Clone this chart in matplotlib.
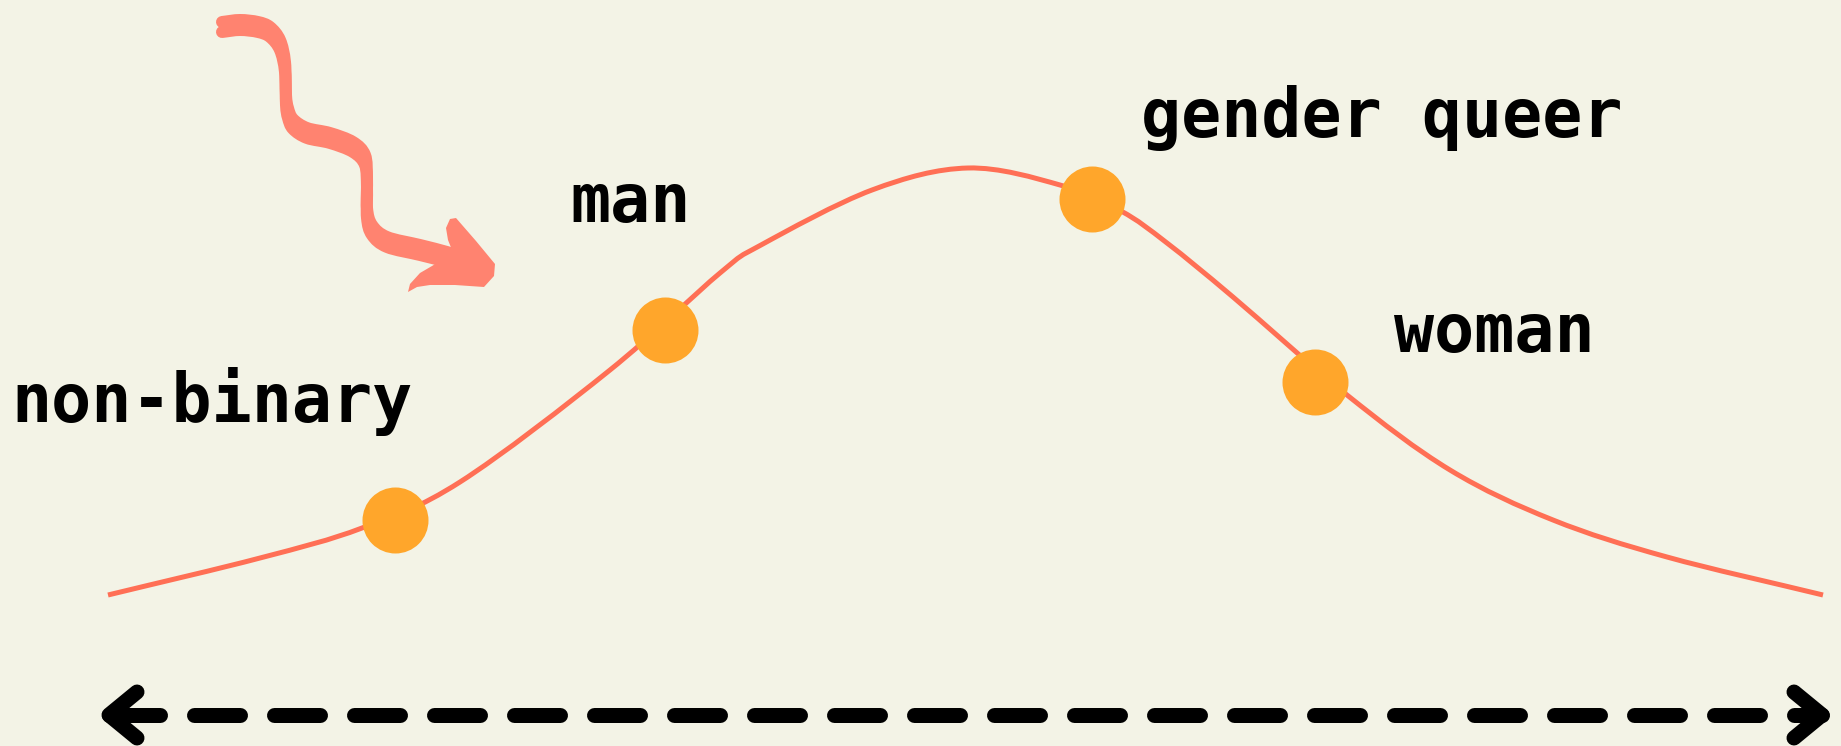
#!/usr/bin/python3
'''
Abstract:
    Redraw the gender spectrum sketch: one bumpy curve, four labelled points,
    a squiggly pointer and a two-headed dashed axis underneath.
Usage:
    plot.py
Output:
    out.png
'''
import numpy as np
from matplotlib import pyplot as plt
from matplotlib.path import Path
from matplotlib.patches import PathPatch

#--------------------------------------------
# Data in pixels (y grows downward)
labels = ["non-binary", "man", "gender queer", "woman"]
dot_x = [395, 665, 1092, 1315]
dot_y = [520, 330, 199, 382]
label_x = [212, 631, 1382, 1494]
label_y = [422, 222, 137, 352]

curve_x = [108, 260, 362, 460, 610, 720, 761, 872, 968, 1060, 1121, 1167,
           1233, 1347, 1450, 1553, 1667, 1823]
curve_y = [595, 558, 528, 482, 370, 273, 245, 190, 168, 185, 211, 243,
           297, 395, 470, 520, 557, 595]

# squiggly pointer (centre line) and its head
squiggle_x = [222, 240, 258, 270, 280, 285, 286, 288, 293, 307, 330, 353, 365,
              367, 367, 372, 387, 420, 447, 465]
squiggle_y = [27, 25, 27, 32, 45, 67, 100, 113, 124, 133, 138, 147, 160,
              183, 213, 230, 242, 250, 257, 263]
head_x = [452, 448, 446, 450, 456, 476, 495, 494, 484, 455, 430, 417, 408, 410,
          420, 432, 445]
head_y = [250, 240, 228, 219, 218, 241, 264, 276, 287, 285, 285, 287, 292, 284,
          273, 266, 258]

# dashed axis
axis_y = 715
axis_left, axis_right = 194.5, 1760.5

W, H = 1841, 746
PX = 0.72   # points per pixel at dpi 100

bg = '#F3F3E6'
line_color = '#FF6F55'
dot_color = '#FFA62B'
pointer_color = '#FF8370'


def smooth_path(xs, ys):
    # Catmull-Rom through the read points, drawn as cubic Bezier segments
    pts = np.column_stack([xs, ys]).astype(float)
    ext = np.vstack([2 * pts[0] - pts[1], pts, 2 * pts[-1] - pts[-2]])
    verts = [pts[0]]
    codes = [Path.MOVETO]
    for i in range(1, len(ext) - 2):
        p0, p1, p2, p3 = ext[i - 1], ext[i], ext[i + 1], ext[i + 2]
        verts += [p1 + (p2 - p0) / 6, p2 - (p3 - p1) / 6, p2]
        codes += [Path.CURVE4] * 3
    return Path(verts, codes)


#--------------------------------------------
# Main code
if __name__ == "__main__":
    fig = plt.figure(figsize=(W / 100, H / 100), dpi=100, facecolor=bg)
    ax = fig.add_axes([0, 0, 1, 1])
    ax.set_facecolor(bg)
    ax.set_xlim(0, W)
    ax.set_ylim(H, 0)
    ax.axis('off')

    #-----------------------------------
    # the curve and the points
    ax.add_patch(PathPatch(smooth_path(curve_x, curve_y), fc='none',
                           ec=line_color, lw=5 * PX, capstyle='butt', zorder=2))
    ax.plot(dot_x, dot_y, 'o', color=dot_color, ms=66 * PX, mec='none', zorder=3)
    for lab, lx, ly in zip(labels, label_x, label_y):
        ax.text(lx, ly, lab, ha='center', va='baseline', fontsize=48,
                family='DejaVu Sans Mono', fontweight='bold', color='black')

    #-----------------------------------
    # squiggly pointer: two offset strokes imitate a flat brush
    sq_y = np.array(squiggle_y)
    for dy in (-5, 5):
        ax.add_patch(PathPatch(smooth_path(squiggle_x, sq_y + dy), fc='none',
                               ec=pointer_color, lw=12 * PX, capstyle='round',
                               joinstyle='round', zorder=2))
    ax.fill(head_x, head_y, color=pointer_color, lw=0, zorder=2)

    #-----------------------------------
    # dashed two-headed axis
    ax.plot([axis_left, axis_right], [axis_y, axis_y], color='black',
            lw=15 * PX, dashes=(46 / 15, 34 / 15), dash_capstyle='round')
    ax.plot([137, 109, 137], [axis_y - 23, axis_y, axis_y + 23], color='black',
            lw=15 * PX, solid_capstyle='round', solid_joinstyle='round')
    ax.plot([109, 160], [axis_y, axis_y], color='black', lw=15 * PX,
            solid_capstyle='round')
    ax.plot([1794, 1822, 1794], [axis_y - 23, axis_y, axis_y + 23], color='black',
            lw=15 * PX, solid_capstyle='round', solid_joinstyle='round')
    ax.plot([1794, 1822], [axis_y, axis_y], color='black', lw=15 * PX,
            solid_capstyle='round')

    plt.savefig("out.png", dpi=100, facecolor=bg)
